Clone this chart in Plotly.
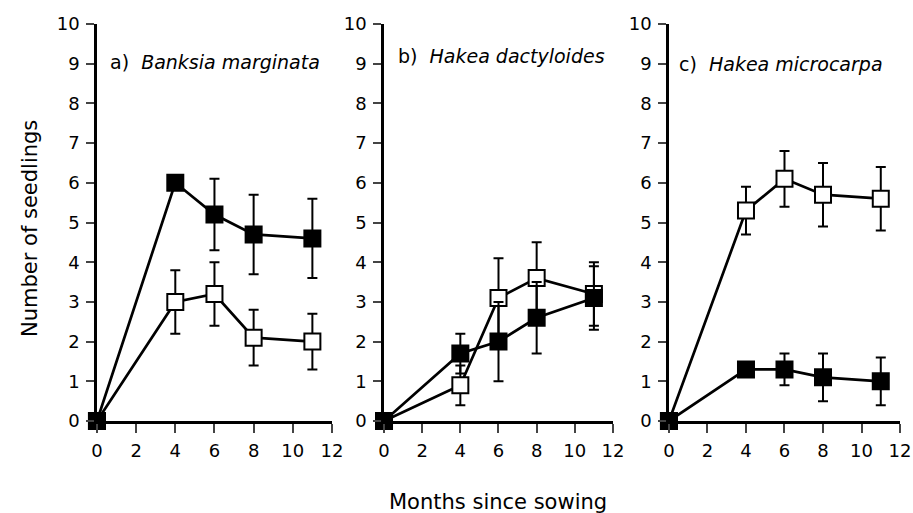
import plotly.graph_objects as go

months = [0, 4, 6, 8, 11]

# Panel a) Banksia marginata
a_filled = [0, 6.0, 5.2, 4.7, 4.6]
a_filled_err = [0, 0, 0.9, 1.0, 1.0]
a_open = [0, 3.0, 3.2, 2.1, 2.0]
a_open_err = [0, 0.8, 0.8, 0.7, 0.7]

# Panel b) Hakea dactyloides
b_filled = [0, 1.7, 2.0, 2.6, 3.1]
b_filled_err = [0, 0.5, 1.0, 0.9, 0.8]
b_open = [0, 0.9, 3.1, 3.6, 3.2]
b_open_err = [0, 0.5, 1.0, 0.9, 0.8]

# Panel c) Hakea microcarpa
c_filled = [0, 1.3, 1.3, 1.1, 1.0]
c_filled_err = [0, 0, 0.4, 0.6, 0.6]
c_open = [0, 5.3, 6.1, 5.7, 5.6]
c_open_err = [0, 0.6, 0.7, 0.8, 0.8]

panel_labels = ["a)", "b)", "c)"]
species = ["Banksia marginata", "Hakea dactyloides", "Hakea microcarpa"]
x_ticks = [0, 2, 4, 6, 8, 10, 12]
y_ticks = list(range(0, 11))

panels = [
    (a_filled, a_filled_err, a_open, a_open_err),
    (b_filled, b_filled_err, b_open, b_open_err),
    (c_filled, c_filled_err, c_open, c_open_err),
]

x_domains = [(0.1062, 0.3636), (0.4206, 0.6714), (0.7327, 0.9858)]
y_domain = (0.1793, 0.9532)
label_pos = [(0.55, 9.05), (0.65, 9.2), (0.4, 9.0)]

FONT = "DejaVu Sans"

fig = go.Figure()

for i, (fy, fe, oy, oe) in enumerate(panels):
    xa = "x" if i == 0 else f"x{i+1}"
    ya = "y" if i == 0 else f"y{i+1}"
    for yv, ev, fill in [(oy, oe, "white"), (fy, fe, "black")]:
        fig.add_trace(go.Scatter(
            x=months, y=yv, xaxis=xa, yaxis=ya, mode="lines+markers",
            line=dict(color="black", width=2.7),
            marker=dict(symbol="square", size=16, color=fill,
                        line=dict(color="black", width=2)),
            error_y=dict(type="data", array=ev, visible=True,
                         color="black", thickness=2, width=5),
            cliponaxis=False, showlegend=False,
        ))

layout = dict(
    width=913, height=513,
    margin=dict(l=0, r=0, t=0, b=0),
    paper_bgcolor="white", plot_bgcolor="white",
    font=dict(family=FONT, color="black"),
    showlegend=False,
)

for i in range(3):
    xk = "xaxis" if i == 0 else f"xaxis{i+1}"
    yk = "yaxis" if i == 0 else f"yaxis{i+1}"
    ya = "y" if i == 0 else f"y{i+1}"
    xa = "x" if i == 0 else f"x{i+1}"
    layout[xk] = dict(
        domain=list(x_domains[i]), range=[0, 12], anchor=ya,
        tickvals=x_ticks, ticks="outside", ticklen=9, tickwidth=2,
        showline=True, linewidth=2.5, linecolor="black", showgrid=False,
        zeroline=False, tickfont=dict(size=18, family=FONT),
        automargin=False, ticklabelstandoff=3,
    )
    layout[yk] = dict(
        domain=list(y_domain), range=[0, 10], anchor=xa,
        tickvals=y_ticks, ticks="outside", ticklen=8, tickwidth=2,
        showline=True, linewidth=2.5, linecolor="black", showgrid=False,
        zeroline=False, tickfont=dict(size=18, family=FONT),
        automargin=False, ticklabelstandoff=3,
    )

fig.update_layout(**layout)

annotations = []
for i in range(3):
    xa = "x" if i == 0 else f"x{i+1}"
    ya = "y" if i == 0 else f"y{i+1}"
    annotations.append(dict(
        x=label_pos[i][0], y=label_pos[i][1], xref=xa, yref=ya,
        xanchor="left", yanchor="middle",
        text=f"{panel_labels[i]}  <i>{species[i]}</i>", showarrow=False,
        font=dict(size=19, family=FONT),
    ))

annotations.append(dict(
    x=30 / 913, y=(513 - 229) / 513, xref="paper", yref="paper",
    text="Number of seedlings", textangle=-90, showarrow=False,
    font=dict(size=21, family=FONT), xanchor="center", yanchor="middle",
))
annotations.append(dict(
    x=498 / 913, y=(513 - 502) / 513, xref="paper", yref="paper",
    text="Months since sowing", showarrow=False,
    font=dict(size=21, family=FONT), xanchor="center", yanchor="middle",
))
fig.update_layout(annotations=annotations)

fig.write_html("out.html")
